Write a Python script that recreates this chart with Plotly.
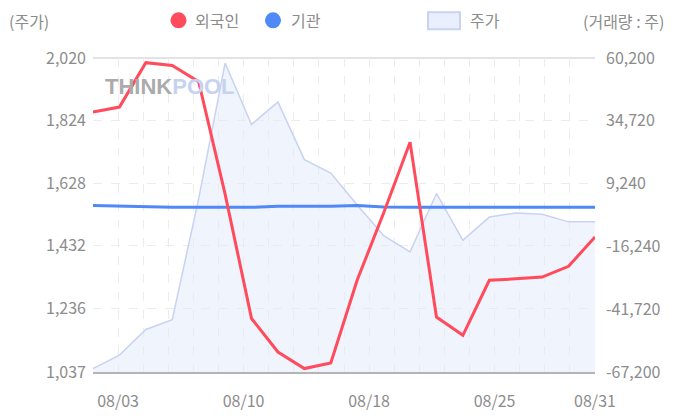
import plotly.graph_objects as go

# x-axis grid categories (21) and the trading days the data is drawn on (20)
axis_dates = ['07/31', '08/03', '08/04', '08/05', '08/06', '08/07', '08/10', '08/11',
              '08/12', '08/13', '08/14', '08/18', '08/19', '08/20', '08/21', '08/24',
              '08/25', '08/26', '08/27', '08/28', '08/31']
label_dates = ['08/03', '08/10', '08/18', '08/25', '08/31']
dates = axis_dates[1:]

price = [1048, 1090, 1170, 1201, 1580, 2004, 1812, 1882, 1702, 1660,
         1560, 1464, 1413, 1596, 1449, 1522, 1535, 1531, 1507, 1507]
foreign = [38300, 40300, 58300, 57200, 50600, 5000, -45500, -59100, -65800, -63500,
           -29900, -2700, 26000, -44900, -52300, -30000, -29400, -28700, -24300, -12400]
institution = [400, 50, -200, -400, -400, -400, -400, 0, 0, 50,
               400, -300, -400, -400, -400, -400, -400, -400, -400, -400]

price_ticks = [1037, 1236, 1432, 1628, 1824, 2020]
volume_ticks = [-67200, -41720, -16240, 9240, 34720, 60200]

FONT = 'Noto Sans CJK KR'
GRAY = '#8c8c8c'
RED = '#ff4b5c'
BLUE = '#4f88f7'

# page has an 8px body margin; plot area in figure pixels
W, H = 670, 404
L, R, T, B = 85, 587, 49.7, 363.7


def px(x):
    # screen x -> paper
    return (x - 8 - L) / (R - L)


def py(y):
    # screen y -> paper
    return (B - (y - 8)) / (B - T)


fig = go.Figure()

fig.add_trace(go.Scatter(
    x=dates, y=price, yaxis='y', mode='lines',
    line=dict(color='#c9d3f1', width=1.5),
    fill='tozeroy', fillcolor='rgba(228,235,252,0.55)',
    name='주가', hoverinfo='skip'
))
fig.add_trace(go.Scatter(
    x=dates, y=institution, yaxis='y2', mode='lines',
    line=dict(color=BLUE, width=3), name='기관'
))
fig.add_trace(go.Scatter(
    x=dates, y=foreign, yaxis='y2', mode='lines',
    line=dict(color=RED, width=3), name='외국인'
))

tick_font = dict(family=FONT, size=16, color=GRAY)

# grid columns are spread evenly over the data span (21 columns vs 20 points)
n_grid = len(axis_dates) - 1
grid_pos = [i * (len(dates) - 1) / n_grid for i in range(len(axis_dates))]

fig.update_layout(
    width=W, height=H,
    margin=dict(l=L, r=W - R, t=T, b=H - B, autoexpand=False),
    paper_bgcolor='white', plot_bgcolor='white',
    showlegend=False,
    font=dict(family=FONT, color=GRAY),
    xaxis=dict(
        type='category', categoryorder='array', categoryarray=dates,
        range=[0, len(dates) - 1],
        tickvals=grid_pos,
        ticktext=[d if d in label_dates else '' for d in axis_dates],
        showgrid=True, gridcolor='#ececec', griddash='dash', gridwidth=1,
        showline=True, linecolor='#b4b4b4', linewidth=2,
        ticks='', tickfont=tick_font, ticklabelstandoff=14, zeroline=False,
        automargin=False
    ),
    yaxis=dict(
        range=[price_ticks[0], price_ticks[-1]],
        tickvals=price_ticks, ticktext=[f'{v:,}' for v in price_ticks],
        showgrid=True, gridcolor='#ececec', griddash='dash', gridwidth=1,
        ticks='', tickfont=tick_font, ticklabelstandoff=6, zeroline=False,
        showline=False, automargin=False
    ),
    yaxis2=dict(
        overlaying='y', side='right', anchor='x',
        range=[volume_ticks[0], volume_ticks[-1]],
        tickvals=volume_ticks, ticktext=[f'{v:,}' for v in volume_ticks],
        showgrid=False, ticks='', tickfont=tick_font, ticklabelstandoff=10,
        zeroline=False, showline=False, automargin=False
    ),
)

header_font = dict(family=FONT, size=16, color=GRAY)
shapes = [
    dict(type='line', xref='paper', yref='paper', x0=0, x1=1, y0=1, y1=1,
         line=dict(color='#e3e3e3', width=2), layer='below'),
    dict(type='circle', xref='paper', yref='paper',
         x0=px(170.5), x1=px(186.5), y0=py(28), y1=py(12),
         fillcolor=RED, line=dict(width=0)),
    dict(type='circle', xref='paper', yref='paper',
         x0=px(265), x1=px(281), y0=py(28), y1=py(12),
         fillcolor=BLUE, line=dict(width=0)),
    dict(type='rect', xref='paper', yref='paper',
         x0=px(428), x1=px(460), y0=py(29), y1=py(12),
         fillcolor='#e9effc', line=dict(color='#c7d3f1', width=2)),
]
annotations = [
    dict(text='(주가)', x=px(7), y=py(21), xanchor='left'),
    dict(text='외국인', x=px(193), y=py(20), xanchor='left'),
    dict(text='기관', x=px(289), y=py(20), xanchor='left'),
    dict(text='주가', x=px(468), y=py(20), xanchor='left'),
    dict(text='(거래량 : 주)', x=px(666), y=py(21), xanchor='right'),
]
for a in annotations:
    a.update(xref='paper', yref='paper', yanchor='middle', showarrow=False,
             font=header_font)

annotations.append(dict(
    text="<b><span style='color:#ababab'>THINK</span>"
         "<span style='color:#c6d3f0'>POOL</span></b>",
    x=px(170), y=py(86), xref='paper', yref='paper', showarrow=False,
    xanchor='center', yanchor='middle',
    font=dict(family='Liberation Sans', size=22)
))

fig.update_layout(shapes=shapes, annotations=annotations)

fig.write_html("out.html")
